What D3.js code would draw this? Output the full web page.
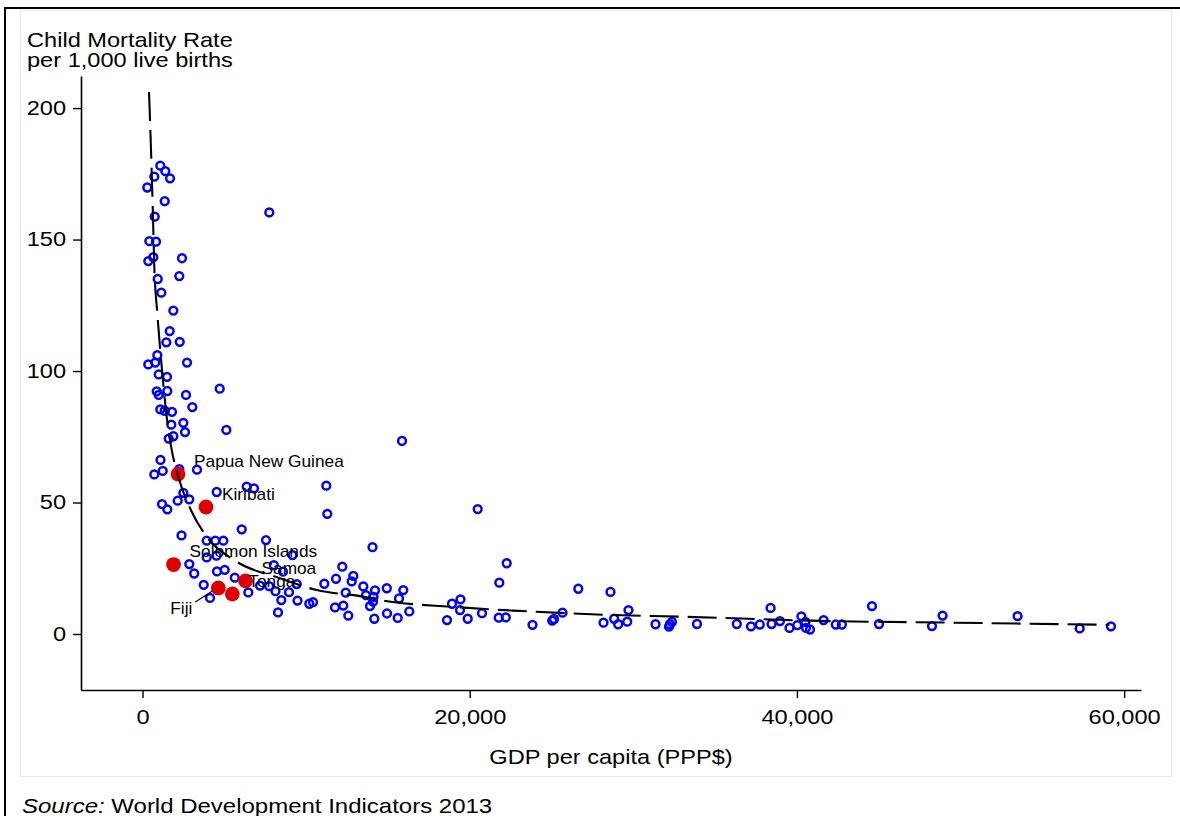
<!DOCTYPE html>
<html>
<head>
<meta charset="utf-8">
<script src="https://cdnjs.cloudflare.com/ajax/libs/d3/7.8.5/d3.min.js"></script>
<style>
  body { margin: 0; background: #fff; }
  svg { display: block; font-family: "Liberation Sans", Arial, sans-serif; }
</style>
</head>
<body>
<div id="chart"></div>
<script>
// GDP per capita (PPP$) and child mortality for all countries
const countryGDP = [
  1088,1394,721,1681,293,1357,746,7750,416,825,
  660,354,2414,2249,929,1149,1883,1662,1455,2274,
  905,354,782,2720,990,1497,4718,868,990,1516,
  2659,3044,1088,1357,1803,1760,2494,2598,5122,1601,
  1883,1100,721,1235,2249,3331,4535,6369,6815,2494,
  2151,2860,1192,1516,6063,2384,7548,3924,4450,4939,
  3924,4523,9168,2860,3160,3741,4553,5024,5641,4126,
  6466,8025,8587,7182,7744,8129,8954,8484,9474,8282,
  9425,11234,11295,12212,11827,11112,12884,12786,13495,14058,
  14210,14119,12420,11766,12273,12578,14088,13660,13905,10421,
  10195,14168,14932,15940,15677,14944,15598,16307,15861,20487,
  21808,22260,18917,19436,19406,18611,19876,20750,21771,22205,
  23837,25041,25151,25670,26636,28604,28176,28830,29075,29625,
  29704,31355,32180,32241,32363,33891,36324,37192,37729,38390,
  38451,38964,39545,40021,40272,40517,40553,40798,41629,42375,
  42747,44587,45015,48254,48902,53486,57282,59195
];
const countryCMR = [
  178.1,176.0,173.9,173.3,169.8,164.6,158.7,160.3,149.4,149.2,
  143.3,141.8,142.9,136.1,135.0,129.8,123.0,115.2,110.9,111.1,
  106.0,102.5,103.2,103.2,98.7,97.8,93.3,92.3,90.9,92.4,
  90.9,86.3,85.4,84.9,84.5,79.6,80.3,76.8,77.6,74.3,
  75.2,66.2,60.7,62.0,62.7,62.5,54.0,56.0,55.4,53.7,
  50.7,51.2,49.4,47.4,39.8,37.5,35.7,35.5,35.5,35.5,
  29.1,29.8,30.0,26.6,23.0,18.7,23.8,24.4,21.4,13.7,
  15.8,26.2,23.7,18.4,18.2,16.3,15.9,12.9,12.7,8.2,
  19.0,56.4,45.7,25.6,21.0,19.1,22.1,20.0,18.1,33.0,
  16.6,14.1,15.7,10.1,10.8,7.0,12.3,14.8,10.6,12.1,
  11.5,5.8,17.4,16.7,13.5,7.8,6.1,8.6,73.4,47.5,
  19.5,26.9,11.5,13.2,9.1,5.3,5.8,7.9,6.2,6.3,
  3.5,5.1,5.7,8.1,17.2,16.0,4.3,5.8,3.7,4.7,
  9.1,3.7,2.8,3.7,4.6,3.8,3.8,2.9,3.6,9.9,
  3.8,4.9,2.3,3.4,6.7,4.6,2.3,1.7,5.3,3.6,
  3.6,10.6,3.8,3.0,7.0,6.8,2.1,2.9
];

// Pacific countries, highlighted in red
const pacificNames = ["Papua New Guinea", "Kiribati", "Solomon Islands", "Fiji", "Tonga", "Samoa"];
const pacificGDP = [2170, 3881, 1895, 4633, 5489, 6295];
const pacificCMR = [60.8, 48.3, 26.4, 17.5, 15.2, 20.2];

// fitted curve
const fitGDP = [397, 520, 623, 721, 905, 1174, 1479, 1785, 2188, 3007, 3924, 5758, 8404,
  10647, 13477, 14516, 18978, 22645, 25945, 28757, 32852, 41342, 49600, 59103];
const fitCMR = [206.1, 184.0, 162.5, 139.7, 121.9, 101.6, 82.6, 70.0, 59.8, 46.5, 37.0, 27.5, 21.2,
  16.7, 14.2, 12.9, 10.3, 8.9, 7.9, 7.2, 6.6, 5.0, 4.3, 3.5];

const xTicks = [0, 20000, 40000, 60000];
const yTicks = [0, 50, 100, 150, 200];

const width = 1180, height = 816;
const stretch = 1.18; // text in the original is a bit wide

const svg = d3.select("#chart").append("svg")
  .attr("width", width)
  .attr("height", height);

// outer frame and the faint graph region box
svg.append("path")
  .attr("d", "M5,816V8H1180")
  .attr("fill", "none")
  .attr("stroke", "#000")
  .attr("stroke-width", 2);
svg.append("rect")
  .attr("x", 20.5).attr("y", 10.5)
  .attr("width", 1151).attr("height", 766)
  .attr("fill", "none")
  .attr("stroke", "#e3ecee")
  .attr("stroke-width", 1);

const x = d3.scaleLinear().domain([-3760, 61030]).range([81, 1141]);
const y = d3.scaleLinear().domain([-21.3, 212.2]).range([690, 76]);

function wideText(sel, tx, ty, k) {
  return sel.attr("transform", "translate(" + tx + "," + ty + ") scale(" + k + ",1)");
}

// axes
const yAxis = svg.append("g")
  .attr("transform", "translate(81,0)")
  .call(d3.axisLeft(y).tickValues(yTicks).tickSize(8).tickSizeOuter(0).tickPadding(7)
    .tickFormat(d3.format(",")));
const xAxis = svg.append("g")
  .attr("transform", "translate(0,690)")
  .call(d3.axisBottom(x).tickValues(xTicks).tickSize(8).tickSizeOuter(0).tickPadding(12)
    .tickFormat(d3.format(",")));

[yAxis, xAxis].forEach(function(g) {
  g.select(".domain").attr("stroke-width", 1.6);
  g.selectAll(".tick line").attr("stroke-width", 1.4);
  g.selectAll("text")
    .attr("font-size", 19.5)
    .attr("fill", "#000")
    .attr("font-family", "Liberation Sans, Arial, sans-serif");
});
yAxis.selectAll("text")
  .attr("x", -15 / 1.21)
  .attr("transform", "scale(1.21,1)");
xAxis.selectAll("text")
  .attr("transform", "scale(1.21,1)");

// titles
wideText(svg.append("text"), 27, 47, stretch)
  .attr("font-size", 20)
  .text("Child Mortality Rate");
wideText(svg.append("text"), 27, 67, stretch)
  .attr("font-size", 20)
  .text("per 1,000 live births");
wideText(svg.append("text"), 611, 764, stretch)
  .attr("font-size", 20)
  .attr("text-anchor", "middle")
  .text("GDP per capita (PPP$)");
const src = wideText(svg.append("text"), 22, 813, 1.2)
  .attr("font-size", 20);
src.append("tspan").attr("font-style", "italic").text("Source:");
src.append("tspan").text(" World Development Indicators 2013");

// all countries
const countries = countryGDP.map(function(g, i) { return { gdp: g, cmr: countryCMR[i] }; });
svg.append("g")
  .selectAll("circle")
  .data(countries)
  .enter()
  .append("circle")
  .attr("cx", function(d) { return x(d.gdp); })
  .attr("cy", function(d) { return y(d.cmr); })
  .attr("r", 3.9)
  .attr("fill", "none")
  .attr("stroke", "#0000ff")
  .attr("stroke-width", 2.5);

// pacific countries
const pacific = pacificNames.map(function(n, i) {
  return { name: n, gdp: pacificGDP[i], cmr: pacificCMR[i] };
});
svg.append("g")
  .selectAll("circle")
  .data(pacific)
  .enter()
  .append("circle")
  .attr("cx", function(d) { return x(d.gdp); })
  .attr("cy", function(d) { return y(d.cmr); })
  .attr("r", 7.4)
  .attr("fill", "#dd0000");

// fitted line
const fit = fitGDP.map(function(g, i) { return { gdp: g, cmr: fitCMR[i] }; });
const line = d3.line()
  .x(function(d) { return x(d.gdp); })
  .y(function(d) { return y(d.cmr); })
  .curve(d3.curveMonotoneX);
svg.append("path")
  .datum(fit)
  .attr("d", line)
  .attr("fill", "none")
  .attr("stroke", "#000")
  .attr("stroke-width", 2.1)
  .attr("stroke-dasharray", "29,9");

// labels: upper right of the dot, Fiji goes below-left with a leader line
pacific.forEach(function(d) {
  const px = x(d.gdp), py = y(d.cmr);
  if (d.name === "Fiji") {
    svg.append("line")
      .attr("x1", px - 23).attr("y1", py + 14)
      .attr("x2", px - 6).attr("y2", py + 3)
      .attr("stroke", "#000")
      .attr("stroke-width", 1.2);
    wideText(svg.append("text"), px - 26, py + 26, 1.08)
      .attr("font-size", 16)
      .attr("text-anchor", "end")
      .text(d.name);
  } else {
    wideText(svg.append("text"), px + 16, py - 13, 1.08)
      .attr("font-size", 16)
      .attr("dy", "0.36em")
      .text(d.name);
  }
});
</script>
</body>
</html>
